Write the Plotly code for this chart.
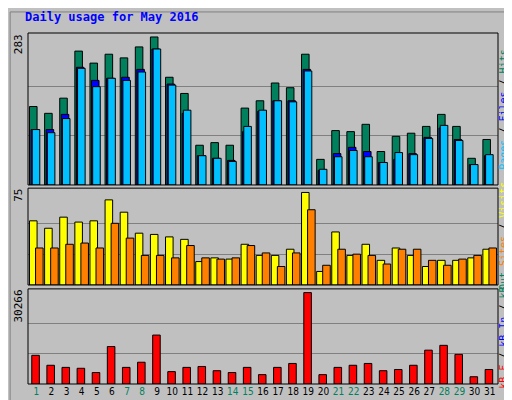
import plotly.graph_objects as go

days = list(range(1, 32))
weekend = [1, 7, 8, 14, 15, 21, 22, 28, 29]

hits = [150, 137, 166, 256, 233, 250, 243, 264, 283, 206, 175, 76, 81, 76, 147, 161, 195, 186, 250, 49, 104, 102, 116, 64, 93, 99, 112, 135, 112, 51, 87]
files = [106, 106, 135, 225, 200, 204, 206, 221, 260, 193, 137, 56, 51, 47, 102, 141, 161, 161, 221, 28, 60, 72, 64, 43, 49, 60, 91, 109, 87, 39, 56]
pages = [106, 100, 127, 223, 188, 204, 200, 216, 260, 191, 143, 56, 51, 45, 112, 143, 161, 159, 218, 30, 54, 66, 54, 43, 62, 58, 89, 114, 85, 39, 58]
visits = [52, 46, 55, 51, 52, 69, 59, 42, 41, 39, 37, 19, 22, 21, 33, 24, 24, 29, 75, 11, 43, 24, 33, 20, 30, 24, 15, 20, 20, 22, 29]
sites = [30, 30, 33, 34, 30, 50, 38, 24, 24, 22, 32, 22, 21, 22, 32, 26, 15, 26, 61, 16, 29, 25, 24, 17, 29, 29, 20, 16, 21, 24, 30]
kbf = [9500, 6200, 5500, 5200, 3800, 12400, 5500, 7200, 16200, 4100, 5500, 5800, 4400, 3800, 5500, 3100, 5500, 6800, 30266, 3100, 5500, 6200, 6800, 4400, 4800, 6200, 11200, 12800, 9800, 2400, 4800]

fnt = "DejaVu Sans Mono, Liberation Mono, monospace"
line = dict(color="black", width=1)

fig = go.Figure()
fig.add_trace(go.Bar(x=days, y=hits, width=0.5, offset=-0.45, marker=dict(color="#00805C", line=line), yaxis="y"))
fig.add_trace(go.Bar(x=days, y=files, width=0.5, offset=-0.35, marker=dict(color="#0000FF", line=line), yaxis="y"))
fig.add_trace(go.Bar(x=days, y=pages, width=0.5, offset=-0.27, marker=dict(color="#00C0FF", line=line), yaxis="y"))
fig.add_trace(go.Bar(x=days, y=visits, width=0.5, offset=-0.45, marker=dict(color="#FFFF00", line=line), xaxis="x2", yaxis="y2"))
fig.add_trace(go.Bar(x=days, y=sites, width=0.5, offset=-0.05, marker=dict(color="#FF8000", line=line), xaxis="x2", yaxis="y2"))
fig.add_trace(go.Bar(x=days, y=kbf, width=0.5, offset=-0.3, marker=dict(color="#FF0000", line=line), xaxis="x3", yaxis="y3"))

ticktext = [f'<span style="color:#00805C">{d}</span>' if d in weekend else str(d) for d in days]
xcommon = dict(range=[0.45, 31.55], showgrid=False, zeroline=False)

fig.update_layout(
    width=512, height=400, showlegend=False, barmode="overlay",
    paper_bgcolor="#C0C0C0", plot_bgcolor="#C0C0C0",
    margin=dict(l=20, r=22, t=25, b=24),
    font=dict(family=fnt, size=11, color="black"),
    xaxis=dict(**xcommon, anchor="y", showticklabels=False),
    xaxis2=dict(**xcommon, anchor="y2", showticklabels=False),
    xaxis3=dict(**xcommon, anchor="y3", tickvals=days, ticktext=ticktext, ticks="",
                tickangle=0, tickfont=dict(size=10, family="Liberation Sans Narrow, DejaVu Sans Condensed, sans-serif")),
    yaxis=dict(domain=[0.567, 1], range=[0, 290.6], tickvals=[94.3, 188.7], showticklabels=False, gridcolor="#808080", zeroline=False),
    yaxis2=dict(domain=[0.282, 0.558], range=[0, 78.5], tickvals=[25, 50], showticklabels=False, gridcolor="#808080", zeroline=False),
    yaxis3=dict(domain=[0, 0.271], range=[0, 31490], tickvals=[10089, 20177], showticklabels=False, gridcolor="#808080", zeroline=False),
)

for dom in [(0.567, 1), (0.282, 0.558), (0, 0.271)]:
    fig.add_shape(type="rect", xref="paper", yref="paper", x0=0, x1=1, y0=dom[0], y1=dom[1], line=dict(color="black", width=1))
fig.add_shape(type="rect", xref="paper", yref="paper", x0=-0.038, x1=1.043, y0=-0.06, y1=1.06, line=dict(color="#808080", width=1))

fig.add_annotation(text="<b>Daily usage for May 2016</b>", xref="paper", yref="paper", x=-0.01, y=1.072, xanchor="left", yanchor="top", showarrow=False, font=dict(color="#0000FF", size=12, family=fnt))
for y, t in [(1, "283"), (0.558, "75"), (0.271, "30266")]:
    fig.add_annotation(text=t, xref="paper", yref="paper", x=-0.005, y=y, xanchor="right", yanchor="top", textangle=-90, showarrow=False, borderpad=0, font=dict(size=11))

right = [
    (0.78, '<span style="color:#00C0FF">Pages</span> / <span style="color:#0000FF">Files</span> / <span style="color:#00805C">Hits</span>'),
    (0.42, '<span style="color:#00805C">Out</span> <span style="color:#FF8000">Sites</span> / <span style="color:#FFFF00">Visits</span>'),
    (0.13, '<span style="color:#FF0000">kB F</span> / <span style="color:#0000FF">kB In</span> / <span style="color:#00805C">kB</span>'),
]
for y, t in right:
    fig.add_annotation(text=t, xref="paper", yref="paper", x=1.0, y=y, xanchor="left", yanchor="middle", textangle=-90, showarrow=False, borderpad=0, xshift=-1, font=dict(size=10))

fig.write_html("out.html")
